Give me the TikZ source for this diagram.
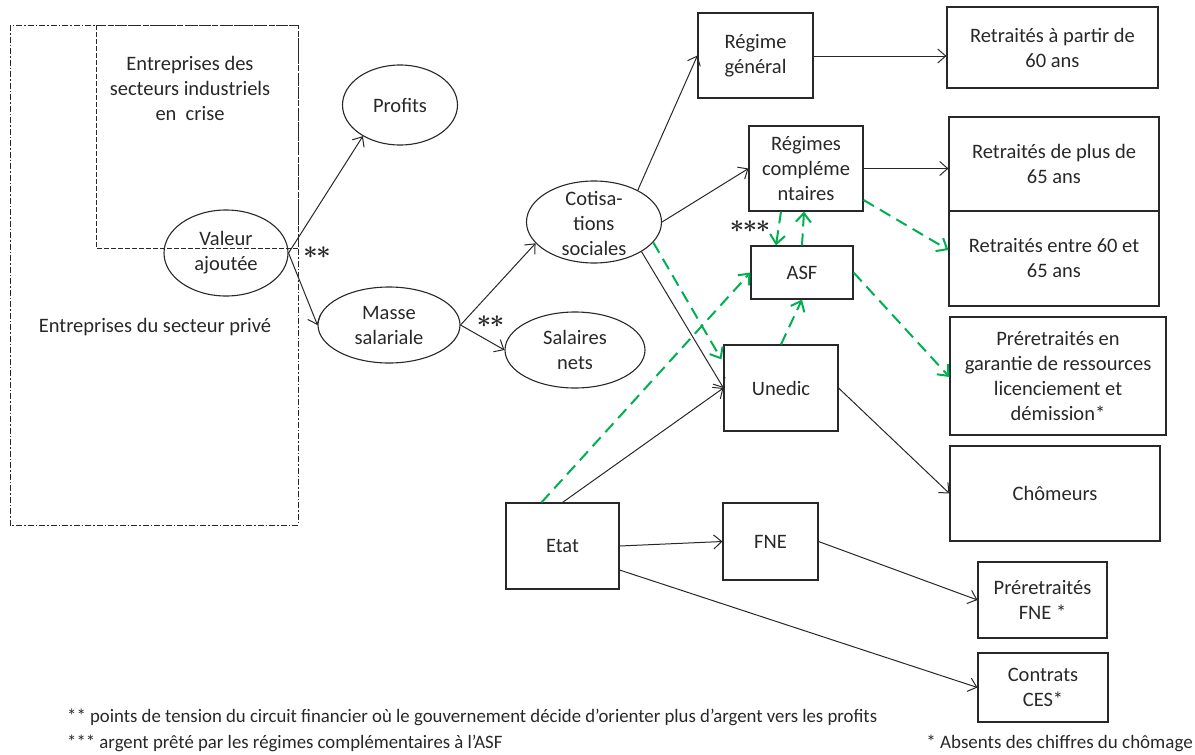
\documentclass[tikz,border=0pt]{standalone}
\usepackage{bm}
\usepackage{fontspec}
\setmainfont{Carlito}
\usetikzlibrary{arrows.meta,shapes.geometric,calc}
\definecolor{grn}{RGB}{0,176,80}
\definecolor{ink}{RGB}{40,40,40}
\newsavebox\fnboxA
\newcommand{\fnlineA}{** points de tension du circuit financier où le gouvernement décide d’orienter plus d’argent vers les profits}
\newcommand{\fnlineB}{*** argent prêté par les régimes complémentaires à l’ASF}
\newcommand{\bst}{{\bm{\ast}}}
\begin{document}
\sbox\fnboxA{\fontsize{19}{22}\selectfont\fnlineA}%
\pgfmathsetmacro\fnscale{810/\wd\fnboxA}%
\begin{tikzpicture}[x=1pt,y=-1pt,
  every node/.style={font=\fontsize{20.5}{25}\selectfont, text=ink},
  box/.style={draw=ink, line width=1.1pt, align=center, inner sep=0pt},
  ell/.style={ellipse, draw=ink, line width=1.1pt, inner sep=0pt},
  lbl/.style={align=center, inner sep=0pt},
  arr/.style={draw=ink, line width=1pt, -{Straight Barb[length=8pt,width=14pt,line width=1pt]}},
  garr/.style={draw=grn, line width=2pt, dash pattern=on 12pt off 7pt, -{Straight Barb[length=9pt,width=15pt,line width=2pt]}},
  stars/.style={font=\fontsize{30}{30}\selectfont, inner sep=0pt, anchor=base}
]
\useasboundingbox (0,0) rectangle (1195,755);
% frames
\draw[ink, line width=0.9pt, dash pattern=on 6pt off 2pt on 1.5pt off 2pt] (10,25) rectangle (298,525);
\draw[ink, line width=0.9pt, dash pattern=on 5pt off 2pt] (96,25) rectangle (298,248);
\node[lbl] (crise) at (190,88) {Entreprises des\\secteurs industriels\\en\ \ crise};
\node[lbl] (prive) at (155,327) {Entreprises du secteur privé};
% ellipses
\node[ell, minimum width=124, minimum height=86] (va) at (226,253) {};
\node[lbl] (va-t) at (va) {Valeur\\ajoutée};
\node[ell, minimum width=115, minimum height=80] (prof) at (400,105) {};
\node[lbl] (prof-t) at (prof) {Profits};
\node[ell, minimum width=142, minimum height=76] (masse) at (389,325) {};
\node[lbl] (masse-t) at (masse) {Masse\\salariale};
\node[ell, minimum width=140, minimum height=76] (sal) at (575,350) {};
\node[lbl] (sal-t) at (sal) {Salaires\\nets};
\node[ell, minimum width=135, minimum height=82] (cot) at (594,222) {};
\node[lbl] (cot-t) at (594,223) {Cotisa-\\tions\\sociales};
% boxes
\node[box, minimum width=115, minimum height=85] (regg) at (755.5,55.5) {Régime\\général};
\node[box, minimum width=211, minimum height=81] (ret60) at (1052.5,47.5) {Retraités à partir de\\60 ans};
\node[box, minimum width=114, minimum height=85] (regc) at (806,168.5) {Régimes\\compléme\\ntaires};
\node[box, minimum width=210, minimum height=94] (ret65) at (1054,164) {Retraités de plus de\\65 ans};
\node[box, minimum width=210, minimum height=95] (r6065) at (1054,258.5) {Retraités entre 60 et\\65 ans};
\node[box, minimum width=102, minimum height=53] (asf) at (802,272.5) {ASF};
\node[box, minimum width=114, minimum height=86] (uned) at (781,388) {Unedic};
\node[box, minimum width=216, minimum height=118] (prg) at (1058,376) {Préretraités en\\garantie de ressources\\licenciement et\\démission*};
\node[box, minimum width=210, minimum height=95] (chom) at (1055,493.5) {Chômeurs};
\node[box, minimum width=113, minimum height=86] (etat) at (562.5,546) {Etat};
\node[box, minimum width=95, minimum height=77] (fne) at (770.5,541.5) {FNE};
\node[box, minimum width=129, minimum height=76] (prefne) at (1042.5,600) {Préretraités\\FNE *};
\node[box, minimum width=130, minimum height=69] (ces) at (1043,687.5) {Contrats\\CES*};
% stars
\node[stars] (s1) at (317,258.5) {$\bst\mkern-1mu\bst$};
\node[stars] (s2) at (490.5,327.5) {$\bst\mkern-1mu\bst$};
\node[stars] (s3) at (750,232.5) {$\bst\mkern-1mu\bst\mkern-1mu\bst$};
% black connectors
\draw[arr] (va.east) -- (prof.220);
\draw[arr] (va.east) -- (masse.west);
\draw[arr] (masse.east) -- (cot.200);
\draw[arr] (masse.east) -- (sal.west);
\draw[arr] (cot.36) -- (regg.west);
\draw[arr] (cot.east) -- (regc.west);
\draw[arr] (cot.-32) -- (uned.west);
\draw[arr] ([yshift=-0.5pt]regg.east) -- ([yshift=-0.5pt]regg.east -| ret60.west);
\draw[arr] (regc.east) -- (regc.east -| ret65.west);
\draw[arr] (uned.east) -- (chom.west);
\draw[arr] (etat.north) -- (uned.west);
\draw[arr] (etat.east) -- (fne.west);
\draw[arr] ([yshift=-24pt]etat.east) -- (ces.west);
\draw[arr] (fne.east) -- (prefne.west);
% green dashed connectors
\draw[garr] (cot.-19) -- ([xshift=-2pt,yshift=-15pt]uned.north west);
\draw[garr] ([xshift=-21pt]etat.north) -- (asf.west);
\draw[garr] (uned.north) -- (asf.south);
\draw[garr] ([xshift=-25pt]regc.south) -- ([xshift=-26pt]asf.north);
\draw[garr] (asf.north) -- ([xshift=-2pt]regc.south);
\draw[garr] ([yshift=-31.5pt]regc.east) -- ([yshift=8.5pt]r6065.west);
\draw[garr] (asf.east) -- ([yshift=-1pt]prg.west);
% footnotes
\node[anchor=west, inner sep=0pt] (fn1) at (67,717) {\scalebox{\fnscale}[1]{\fontsize{19}{22}\selectfont\fnlineA}};
\node[anchor=west, inner sep=0pt] (fn2) at (67,743) {\scalebox{\fnscale}[1]{\fontsize{19}{22}\selectfont\fnlineB}};
\node[anchor=east, inner sep=0pt, font=\fontsize{19}{22}\selectfont] (fn3) at (1193,743) {* Absents des chiffres du chômage};
\end{tikzpicture}
\end{document}
